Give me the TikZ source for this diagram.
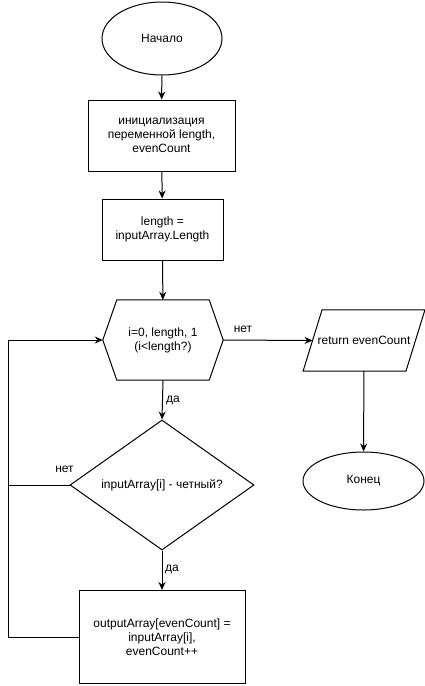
\documentclass[tikz,border=0pt]{standalone}
\usepackage{fontspec}
\setmainfont{Liberation Sans}
\usetikzlibrary{shapes.geometric,arrows.meta,calc}
\begin{document}
\begin{tikzpicture}[x=1pt,y=-1pt,
  every node/.style={font=\fontsize{12}{14}\selectfont, inner sep=0pt, align=center},
  line/.style={draw=black, line width=1pt},
  arr/.style={line, -{Stealth[length=8pt,width=7pt]}},
  term/.style={draw, ellipse, line width=1pt},
  proc/.style={draw, rectangle, line width=1pt},
  lbl/.style={font=\fontsize{12}{14}\selectfont}
]
\useasboundingbox (0,0) rectangle (424,686);
\fill[white] (0,0) rectangle (424,686);

\node[term, minimum width=120pt, minimum height=73pt] (start) at (162,38.5) {Начало};
\node[proc, minimum width=147pt, minimum height=71pt] (init) at (161.5,135.5) {инициализация\\переменной length,\\evenCount};
\node[proc, minimum width=121pt, minimum height=61pt] (len) at (162.5,229.5) {length =\\inputArray.Length};

% hexagon
\node[minimum width=120pt, minimum height=80pt] (hex) at (163,340) {i=0, length, 1\\(i<length?)};
\draw[line] (hex.west) -- ($(hex.north west)+(14,0)$) -- ($(hex.north east)+(-14,0)$) -- (hex.east)
  -- ($(hex.south east)+(-14,0)$) -- ($(hex.south west)+(14,0)$) -- cycle;

% parallelogram
\node[minimum width=102.5pt, minimum height=61pt] (ret) at (364,340.5) {return evenCount};
\draw[line] ($(ret.north west)+(9.5,0)$) -- ($(ret.north east)+(9.5,0)$)
  -- ($(ret.south east)+(-9.5,0)$) -- ($(ret.south west)+(-9.5,0)$) -- cycle;

\node[term, minimum width=121pt, minimum height=58pt] (stop) at (363.5,481) {Конец};

\node[draw, diamond, line width=1pt, minimum width=184pt, minimum height=130pt, aspect=1.4] (dia) at (162,485) {inputArray[i] - четный?};

\node[proc, minimum width=166pt, minimum height=93pt] (body) at (162,637) {outputArray[evenCount] =\\inputArray[i],\\evenCount++};

% connectors
\draw[arr] (start) -- (init);
\draw[arr] (init) -- (len);
\draw[arr] (len) -- (hex);
\draw[arr] (hex.east) -- (ret.west);
\draw[arr] (ret) -- (stop);
\draw[arr] (hex.south) -- (dia.north);
\draw[arr] (dia.south) -- (body.north);

\coordinate (lb) at (8,637);
\coordinate (lt) at (8,340);
\draw[arr] (body.west) -- (lb) -- (lt) -- (hex.west);
\draw[line] (dia.west) -- (dia.west -| lb);

% labels
\node[lbl] (l1) at (243,329) {нет};
\node[lbl, anchor=west] (l2) at (166,400) {да};
\node[lbl] (l3) at (64.5,469) {нет};
\node[lbl, anchor=west] (l4) at (165,569) {да};
\end{tikzpicture}
\end{document}
